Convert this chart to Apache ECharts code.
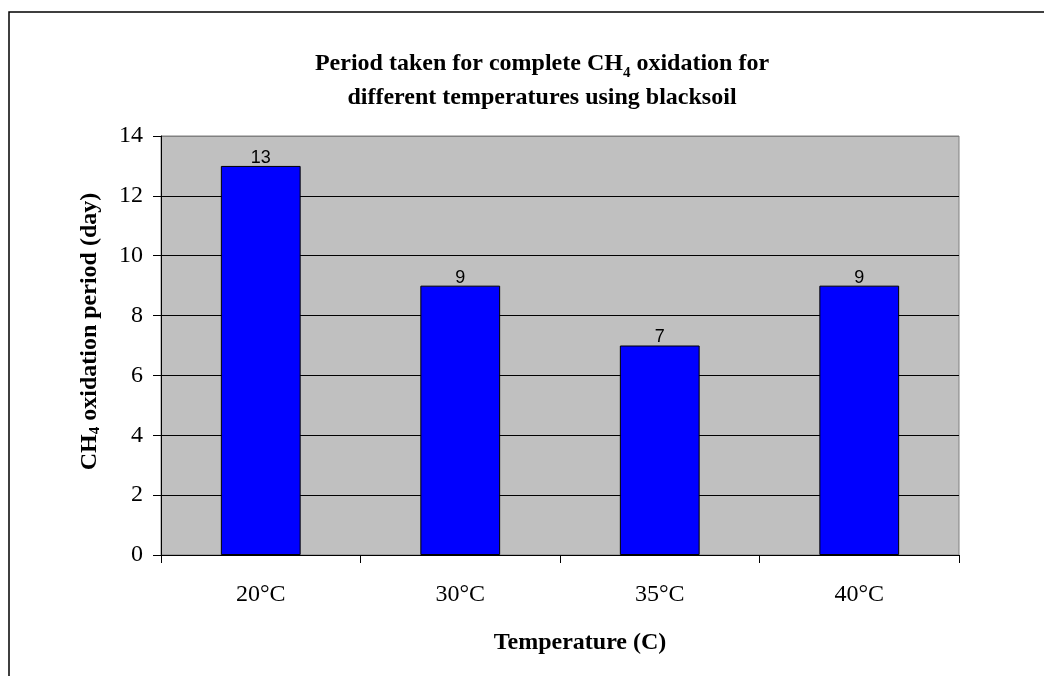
<!DOCTYPE html>
<html>
<head>
<meta charset="utf-8">
<style>html,body{margin:0;padding:0;background:#fff;}#c{width:1044px;height:676px;}</style>
<script src="https://cdn.jsdelivr.net/npm/echarts@6/dist/echarts.min.js"></script>
</head>
<body>
<div id="c"></div>
<script>
const categories = ['20°C', '30°C', '35°C', '40°C'];
const periodDays = [13, 9, 7, 9];
const yTicks = { min: 0, max: 14, interval: 2 };

const serif = '"Liberation Serif", "Times New Roman", serif';
const sans = '"Liberation Sans", Arial, sans-serif';

const chart = echarts.init(document.getElementById('c'));
chart.setOption({
  animation: false,
  backgroundColor: '#fff',
  graphic: [{
    type: 'rect', silent: true,
    shape: { x: 9, y: 12, width: 1100, height: 700 },
    style: { fill: 'none', stroke: '#000', lineWidth: 1.5 }
  }],
  title: {
    text: '{b|Period taken for complete CH}{s|4}{b| oxidation for}\n{b|different temperatures using blacksoil}',
    left: 537, top: 42, textAlign: 'center',
    textStyle: {
      rich: {
        b: { fontFamily: serif, fontWeight: 'bold', fontSize: 24, color: '#000', lineHeight: 34 },
        s: { fontFamily: serif, fontWeight: 'bold', fontSize: 15, color: '#000', lineHeight: 34, verticalAlign: 'bottom' }
      }
    }
  },
  grid: {
    left: 161, top: 136, right: 85, bottom: 121,
    show: true, backgroundColor: '#C0C0C0', borderColor: '#808080', borderWidth: 1
  },
  xAxis: {
    type: 'category',
    data: categories,
    name: 'Temperature (C)',
    nameLocation: 'middle',
    nameGap: 76,
    nameTextStyle: { fontFamily: serif, fontWeight: 'bold', fontSize: 24, color: '#000', padding: [0, 0, 0, 40] },
    axisLine: { show: true, lineStyle: { color: '#000', width: 1 } },
    axisTick: { show: true, alignWithLabel: false, length: 8, lineStyle: { color: '#000' } },
    axisLabel: { fontFamily: serif, fontSize: 24, color: '#000', margin: 28 },
    splitLine: { show: false }
  },
  yAxis: {
    type: 'value',
    min: yTicks.min, max: yTicks.max, interval: yTicks.interval,
    name: '{b|CH}{s|4}{b| oxidation period (day)}',
    nameLocation: 'middle',
    nameRotate: 90,
    nameGap: 58,
    nameTextStyle: {
      padding: [0, 0, 0, 28],
      rich: {
        b: { fontFamily: serif, fontWeight: 'bold', fontSize: 24, color: '#000', lineHeight: 26 },
        s: { fontFamily: serif, fontWeight: 'bold', fontSize: 15, color: '#000', lineHeight: 26, verticalAlign: 'bottom' }
      }
    },
    axisLine: { show: true, lineStyle: { color: '#000', width: 1 } },
    axisTick: { show: true, length: 8, lineStyle: { color: '#000' } },
    axisLabel: { fontFamily: serif, fontSize: 24, color: '#000', margin: 18 },
    splitLine: { show: true, lineStyle: { color: ['#000', '#000', '#000', '#000', '#000', '#000', '#000', '#808080'], width: 1 } }
  },
  series: [{
    type: 'bar',
    data: periodDays,
    barWidth: '40%',
    itemStyle: { color: '#0000FF', borderColor: '#000', borderWidth: 1 },
    label: { show: true, position: 'top', distance: -1, fontFamily: sans, fontSize: 18, color: '#000' }
  }]
});
</script>
</body>
</html>
